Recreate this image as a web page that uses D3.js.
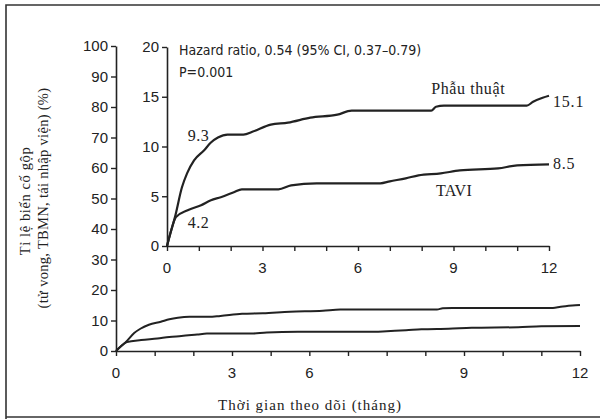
<!DOCTYPE html>
<html><head><meta charset="utf-8">
<script src="https://cdn.jsdelivr.net/npm/d3@7"></script>
<style>
html,body{margin:0;padding:0;background:#fff;}
svg{display:block;}
.narrow{font-family:"Liberation Sans Narrow","DejaVu Sans Condensed","Liberation Sans",sans-serif;}
.sans{font-family:"Liberation Sans",Arial,sans-serif;}
.serif{font-family:"Liberation Serif","DejaVu Serif",serif;}
</style>
</head><body>
<script>
// ---- data ----
const surgeryMonths = [0, 0.1, 0.25, 0.47, 0.63, 0.85, 1.16, 1.38, 1.6, 1.9, 2.4, 2.7, 3.26, 3.8, 4.5, 5.35, 5.8, 8.3, 8.45, 8.7, 11.3, 11.5, 11.8, 12];
const surgeryValues = [0, 1.2, 2.9, 5.9, 7.3, 8.6, 9.6, 10.4, 10.9, 11.2, 11.2, 11.5, 12.2, 12.4, 12.9, 13.2, 13.6, 13.6, 14.0, 14.1, 14.1, 14.5, 14.9, 15.1];
const taviMonths = [0, 0.1, 0.28, 0.65, 1.07, 1.38, 1.69, 2.1, 2.35, 3.5, 3.9, 4.7, 6.7, 7.0, 7.5, 7.9, 8.6, 9.2, 10.4, 11.0, 12];
const taviValues = [0, 1.2, 2.9, 3.6, 4.1, 4.6, 4.9, 5.4, 5.7, 5.7, 6.1, 6.3, 6.3, 6.5, 6.8, 7.1, 7.3, 7.6, 7.8, 8.1, 8.2];
const mainYTicks = [0,10,20,30,40,50,60,70,80,90,100];
const insetYTicks = [0,5,10,15,20];
const monthTicks = [0,1,2,3,4,5,6,7,8,9,10,11,12];
const insetXLabels = ["0","3","6","9","12"];
const insetXLabelMonths = [0,3,6,9,12];
const mainXLabels = ["0","3","6","9","12"];
const mainXLabelMonths = [0,3,5,9,12];
const seriesNames = ["Phẫu thuật","TAVI"];
const earlyLabels = ["9.3","4.2"];
const endLabels = ["15.1","8.5"];
const hrText = "Hazard ratio, 0.54 (95% CI, 0.37–0.79)";
const pText = "P=0.001";
const yTitle1 = "Tỉ lệ biến cố gộp";
const yTitle2 = "(tử vong, TBMN, tái nhập viện) (%)";
const xTitle = "Thời gian theo dõi (tháng)";

const W = 600, H = 419;
const ink = "#222";
const svg = d3.select("body").append("svg").attr("width", W).attr("height", H);
svg.append("rect").attr("width", W).attr("height", H).attr("fill", "#fff");
// frame
svg.append("path").attr("d", `M6,${H+2} L6,5 L${W+2},5`).attr("fill","none").attr("stroke","#333").attr("stroke-width",1.6);
svg.append("line").attr("x1",6).attr("x2",W).attr("y1",417).attr("y2",417).attr("stroke","#333").attr("stroke-width",1.6);

const surgery = surgeryMonths.map((m,i)=>({m, v: surgeryValues[i]}));
const tavi = taviMonths.map((m,i)=>({m, v: taviValues[i]}));

// main scales
const xM = d3.scaleLinear().domain([0,12]).range([116, 580]);
const yM = d3.scaleLinear().domain([0,100]).range([351, 46]);
// inset scales
const xI = d3.scaleLinear().domain([0,12]).range([167, 549]);
const yI = d3.scaleLinear().domain([0,20]).range([246, 47]);

const tickFont = 15;
function styleAxis(g){
  g.attr("font-family", null).attr("font-size", null);
  g.select(".domain").attr("stroke", ink).attr("stroke-width", 1.6);
  g.selectAll(".tick line").attr("stroke", ink).attr("stroke-width", 1.4);
  g.selectAll(".tick text").attr("fill", ink).attr("font-size", tickFont).attr("class","sans");
}

// main axes
const gMy = svg.append("g").attr("transform", `translate(${xM(0)},0)`)
  .call(d3.axisLeft(yM).tickValues(mainYTicks).tickSize(5).tickPadding(3).tickSizeOuter(0));
styleAxis(gMy);
const gMx = svg.append("g").attr("transform", `translate(0,${yM(0)})`)
  .call(d3.axisBottom(xM).tickValues(monthTicks).tickSize(5).tickSizeOuter(0).tickFormat(""));
styleAxis(gMx);
svg.append("g").selectAll("text").data(mainXLabelMonths).join("text")
  .attr("class","sans").attr("x", d=>xM(d)).attr("y", yM(0)+27)
  .attr("text-anchor","middle").attr("font-size",tickFont).attr("fill",ink)
  .text((d,i)=>mainXLabels[i]);

// inset axes
const gIy = svg.append("g").attr("transform", `translate(${xI(0)},0)`)
  .call(d3.axisLeft(yI).tickValues(insetYTicks).tickSize(5).tickPadding(3).tickSizeOuter(0));
styleAxis(gIy);
const gIx = svg.append("g").attr("transform", `translate(0,${yI(0)})`)
  .call(d3.axisBottom(xI).tickValues(monthTicks).tickSize(5).tickSizeOuter(0).tickFormat(""));
styleAxis(gIx);
svg.append("g").selectAll("text").data(insetXLabelMonths).join("text")
  .attr("class","sans").attr("x", d=>xI(d)).attr("y", yI(0)+27)
  .attr("text-anchor","middle").attr("font-size",tickFont).attr("fill",ink)
  .text((d,i)=>insetXLabels[i]);

// curves
const lineM = d3.line().x(d=>xM(d.m)).y(d=>yM(d.v)).curve(d3.curveMonotoneX);
const lineI = d3.line().x(d=>xI(d.m)).y(d=>yI(d.v)).curve(d3.curveMonotoneX);
[surgery, tavi].forEach(s=>{
  svg.append("path").attr("d", lineM(s)).attr("fill","none").attr("stroke",ink).attr("stroke-width",2);
  svg.append("path").attr("d", lineI(s)).attr("fill","none").attr("stroke",ink).attr("stroke-width",2.2);
});

// inset annotations
const ann = (cls, x, y, txt, size, ls) => svg.append("text").attr("class",cls).attr("x",x).attr("y",y)
  .attr("font-size",size).attr("letter-spacing", ls||0).attr("fill",ink).text(txt);
ann("narrow", 179, 55, hrText, 14);
ann("narrow", 179, 77, pText, 14);
ann("serif", xI(8.3), 94, seriesNames[0], 16, 0.6);
ann("serif", xI(8.45), 196, seriesNames[1], 16, 0.3);
ann("serif", xI(0.65), 141, earlyLabels[0], 16, 0.5);
ann("serif", xI(0.65), 228, earlyLabels[1], 16, 0.5);
ann("serif", xI(12)+4, 107, endLabels[0], 16, 0.8);
ann("serif", xI(12)+4, 169, endLabels[1], 16, 0.8);

// titles
svg.append("text").attr("class","serif").attr("x", 310).attr("y", 410).attr("text-anchor","middle")
  .attr("font-size",15).attr("letter-spacing",1.0).attr("fill",ink).text(xTitle);
svg.append("text").attr("class","serif").attr("transform","translate(30,201) rotate(-90)").attr("text-anchor","middle")
  .attr("font-size",14.5).attr("letter-spacing",0.6).attr("fill",ink).text(yTitle1);
svg.append("text").attr("class","serif").attr("transform","translate(48,198) rotate(-90)").attr("text-anchor","middle")
  .attr("font-size",14.5).attr("letter-spacing",0.3).attr("fill",ink).text(yTitle2);
</script>
</body></html>
